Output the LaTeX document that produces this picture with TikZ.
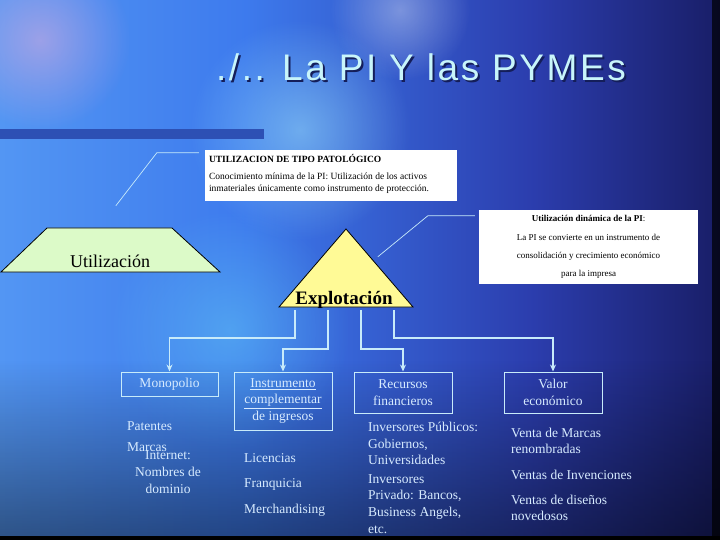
\documentclass[tikz,border=0pt]{standalone}
\usepackage{fontspec}
\setmainfont{Liberation Serif}
\newfontfamily\titlefont[LetterSpace=7]{Liberation Sans}
\usetikzlibrary{fadings,arrows.meta}
\definecolor{linec}{RGB}{200,235,250}
\definecolor{txtc}{RGB}{215,235,255}
\definecolor{titlec}{RGB}{200,245,250}
\definecolor{shadc}{RGB}{20,30,90}
\definecolor{barc}{RGB}{45,80,180}
\definecolor{trapc}{RGB}{220,250,200}
\definecolor{tric}{RGB}{255,250,150}
\pgfdeclarehorizontalshading{bgshade}{100bp}{rgb(0bp)=(0.55,0.5,0.92); rgb(20bp)=(0.35,0.62,0.96); rgb(42bp)=(0.24,0.48,0.93); rgb(62bp)=(0.17,0.24,0.68); rgb(80bp)=(0.07,0.07,0.3); rgb(100bp)=(0.02,0.02,0.1)}
\tikzfading[name=blob, inner color=transparent!0, outer color=transparent!100]
\tikzset{%
    link/.style={-{Stealth[length=7pt,width=6pt]},line width=1.2pt,draw=linec},
    callout/.style={line width=0.7pt,draw=linec},
    obox/.style={draw=linec,line width=1pt,align=center,text=txtc,inner sep=0pt,
        font=\fontsize{13.5}{16.5}\selectfont},
    item/.style={anchor=base west,text=txtc,inner sep=0pt,font=\fontsize{13.5}{16}\selectfont},
    wbox/.style={fill=white,draw=none,inner sep=0pt}
}
\begin{document}
\begin{tikzpicture}[x=1pt,y=-1pt]
  \useasboundingbox (0,0) rectangle (720,540);
  % background
  \begin{scope}
  \clip (0,0) rectangle (720,540);
  \shade[shading=bgshade] (0,0) rectangle (720,540);
  \fill[white!60!cyan,path fading=blob,opacity=0.55] (300,130) circle (110);
  \fill[cyan!60!white,path fading=blob,opacity=0.45] (230,330) circle (120);
  \fill[white!70!magenta,path fading=blob,opacity=0.45] (40,40) circle (90);
  \fill[white,path fading=blob,opacity=0.35] (400,10) circle (70);
  \fill[black,path fading=north,opacity=0.45] (0,360) rectangle (720,540);
  \fill[black] (0,536) rectangle (720,540);
  \fill[black,opacity=0.7] (712,0) rectangle (720,540);
  \end{scope}

  % title
  \node[text=shadc,font=\titlefont\fontsize{37}{37}\selectfont] (title-sh) at (423,69) {./.. La PI Y las PYMEs};
  \node[text=titlec,font=\titlefont\fontsize{37}{37}\selectfont] (title) at (421,67) {./.. La PI Y las PYMEs};
  \fill[barc] (0,129) rectangle (264,139);

  % white boxes
  \node[wbox,minimum width=252pt,minimum height=51pt] (topbox) at (331,175.5) {};
  \node[below right,inner sep=4pt,align=left,font=\fontsize{9.5}{12}\selectfont] (toptext) at (topbox.north west)
     {{\bfseries UTILIZACION DE TIPO PATOLÓGICO}\\[5pt]
      Conocimiento mínima de la PI: Utilización de los activos\\
      inmateriales únicamente como instrumento de protección.};
  \node[wbox,minimum width=219pt,minimum height=74pt,align=center,font=\fontsize{9}{18.3}\selectfont] (dynbox) at (588.5,247)
     {{\bfseries Utilización dinámica de la PI}:\\
      La PI se convierte en un instrumento de\\
      consolidación y crecimiento económico\\
      para la impresa};
  \draw[callout] ([xshift=-6pt,yshift=-3pt]topbox.north west) -- ++(-42,0) -- ++(-41,53);
  \draw[callout] ([xshift=-4pt,yshift=-6pt]dynbox.north west) -- ++(-47,0) -- ++(-50,41);

  % Utilizacion / Explotacion
  \draw[fill=trapc,line width=0.8pt] (47,228) -- (172,228) -- (220,272) -- (1,272) -- cycle;
  \node[anchor=base,inner sep=0pt,font=\fontsize{18}{18}\selectfont] (util) at (110,267) {Utilización};
  \draw[fill=tric,line width=0.8pt] (346,229) -- (413,307) -- (279,307) -- cycle;
  \node[anchor=base,inner sep=0pt,font=\bfseries\fontsize{19}{19}\selectfont] (explo) at (344,304) {Explotación};

  \coordinate (E1) at (295,310);
  \coordinate (E2) at (328,310);
  \coordinate (E3) at (361,310);
  \coordinate (E4) at (394,310);

  % boxes
  \node[obox,minimum width=97pt,minimum height=24pt] (mono) at (169.5,384) {Monopolio};
  \node[obox,minimum width=98pt,minimum height=58pt] (instr) at (283,401) {\underline{Instrumento}\\\underline{complementar}\\de ingresos};
  \node[obox,minimum width=98pt,minimum height=41pt] (recur) at (403,392.5) {Recursos\\financieros};
  \node[obox,minimum width=98pt,minimum height=41pt] (valor) at (553,392.5) {Valor\\económico};

  \draw[link] (E1) -- ++(0,28) -| (mono.north);
  \draw[link] (E2) -- ++(0,39) -| (instr.north);
  \draw[link] (E3) -- ++(0,39) -| (recur.north);
  \draw[link] (E4) -- ++(0,28) -| (valor.north);

  % lists
  \node[item] (pat) at (127,430) {Patentes};
  \node[item] (mar) at (127,451) {Marcas};
  \foreach \t/\y [count=\i] in {Internet:/459,Nombres de/476,dominio/493}
    \node[item,anchor=base] (int-\i) at (168,\y) {\t};
  \foreach \t/\y [count=\i] in {Licencias/462,Franquicia/487,Merchandising/513}
    \node[item] (lic-\i) at (244,\y) {\t};
  \foreach \t/\y [count=\i] in {Inversores Públicos:/431,{Gobiernos,}/448,Universidades/464,Inversores/483,{Privado: Bancos,}/499,{Business Angels,}/516,etc./533}
    \node[item] (inv-\i) at (368,\y) {\t};
  \foreach \t/\y [count=\i] in {Venta de Marcas/437,renombradas/453,Ventas de Invenciones/479,Ventas de diseños/504,novedosos/520}
    \node[item] (ven-\i) at (511,\y) {\t};
\end{tikzpicture}
\end{document}
